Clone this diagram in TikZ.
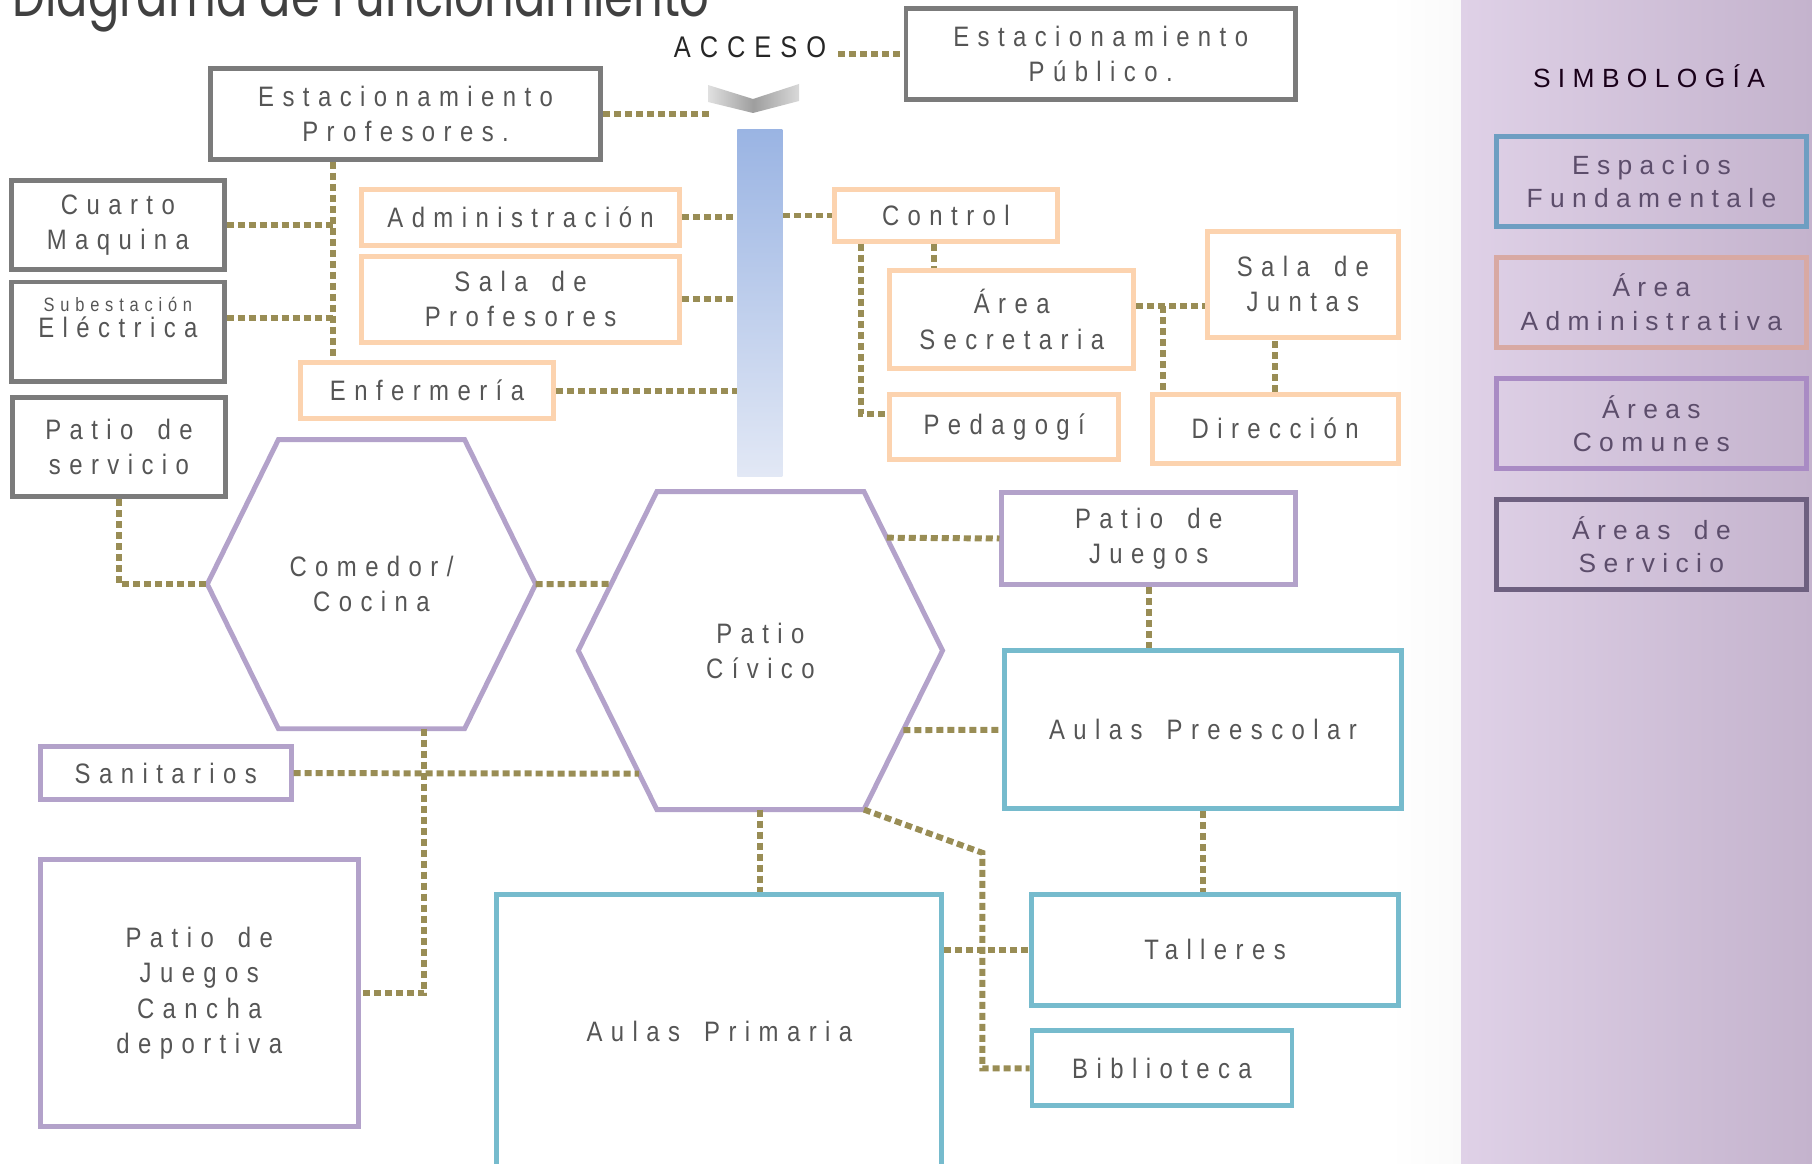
\documentclass[tikz,border=0pt]{standalone}
\usepackage{fontspec}
\setmainfont{Liberation Sans}[FakeStretch=0.85, LetterSpace=30, WordSpace=1.6]
\newfontfamily\legendfont{Liberation Sans}[LetterSpace=28, WordSpace=1.6]
\newfontfamily\titlefont{Poppins}[FakeStretch=0.8]
\usepackage{tikz}
\usetikzlibrary{positioning, calc}

\definecolor{txtgray}{HTML}{555555}
\definecolor{servgray}{HTML}{7B7B7B}
\definecolor{admpeach}{HTML}{FCD3AF}
\definecolor{comlila}{HTML}{B3A2CA}
\definecolor{fundteal}{HTML}{76BBCD}
\definecolor{linkolive}{HTML}{998D55}
\definecolor{barblue}{HTML}{9AB4E3}
\definecolor{barpale}{HTML}{E2E8F5}
\definecolor{legleft}{HTML}{DFD1E7}
\definecolor{legright}{HTML}{C4B3CD}
\definecolor{legtext}{HTML}{5C4D6B}
\definecolor{legfund}{HTML}{6E9EC2}
\definecolor{legadm}{HTML}{D8A9A3}
\definecolor{legcom}{HTML}{A98BC4}
\definecolor{legserv}{HTML}{6E6080}

\begin{document}
\begin{tikzpicture}[
  every node/.style={font=\fontsize{8}{10}\selectfont, text=txtgray, align=center},
  servbox/.style={rectangle, draw=servgray, line width=1.4pt},
  admbox/.style={rectangle, draw=admpeach, line width=1.4pt},
  combox/.style={rectangle, draw=comlila, line width=1.4pt},
  fundbox/.style={rectangle, draw=fundteal, line width=1.4pt},
  hexline/.style={draw=comlila, line width=1.4pt, line join=miter},
  link/.style={draw=linkolive, line width=1.7pt, dash pattern=on 0.07cm off 0.04cm},
  legbox/.style={rectangle, line width=1.4pt, minimum width=3.097cm, minimum height=0.901cm,
    font=\legendfont\fontsize{7.5}{9.5}\selectfont, text=legtext}
]
\useasboundingbox (0,0) rectangle (18.12,-11.64);

% Legend panel
\fill[left color=white, right color=black!2] (13.9,0) rectangle (14.61,-11.64);
\fill[left color=legleft, right color=legright] (14.61,0) rectangle (18.12,-11.64);

% Title and access
\node[anchor=base west, inner sep=0, font=\titlefont\fontsize{16.5}{18}\selectfont, text=black!75] (titulo) at (0.12,-0.17) {Diagrama de Funcionamiento};
\node[font=\fontsize{8.5}{10}\selectfont, text=black!85] (acceso) at (7.50,-0.474) {ACCESO};
\shade[left color=black!12, right color=black!15, middle color=black!38]
  (7.08,-0.85) -- (7.53,-0.99) -- (7.99,-0.84) -- (7.99,-1.01) -- (7.53,-1.13) -- (7.08,-1.02) -- cycle;
\coordinate (chevron) at (7.09,-1.12);
\node[rectangle, top color=barblue, bottom color=barpale, minimum width=0.45cm, minimum height=3.467cm, inner sep=0] (pasillo) at (7.598,-3.028) {};

% Service areas
\node[servbox, minimum width=3.906cm, minimum height=0.913cm] (estprof) at (4.056,-1.138) {Estacionamiento\\Profesores.};
\node[servbox, minimum width=3.894cm, minimum height=0.913cm] (publico) at (11.007,-0.537) {Estacionamiento\\Público.};
\node[servbox, minimum width=2.126cm, minimum height=0.890cm] (cuarto) at (1.179,-2.248) {Cuarto\\Maquina};
\node[servbox, minimum width=2.126cm, minimum height=0.994cm,
  label={[yshift=0.14cm]center:{{\fontsize{5.5}{7}\selectfont Subestación}\\[-2.5pt]Eléctrica}}] (subest) at (1.179,-3.317) {};
\node[servbox, minimum width=2.126cm, minimum height=0.994cm] (patserv) at (1.190,-4.472) {Patio de\\servicio};

% Administrative areas
\node[admbox, minimum width=3.178cm, minimum height=0.555cm] (admin) at (5.206,-2.173) {Administración};
\node[admbox, minimum width=3.178cm, minimum height=0.855cm] (salaprof) at (5.206,-2.993) {Sala de\\Profesores};
\node[admbox, minimum width=2.531cm, minimum height=0.555cm] (enfer) at (4.270,-3.906) {Enfermería};
\node[admbox, minimum width=2.230cm, minimum height=0.520cm] (control) at (9.459,-2.155) {Control};
\node[admbox, minimum width=2.438cm, minimum height=0.982cm] (secret) at (10.117,-3.195) {Área\\Secretaria};
\node[admbox, minimum width=2.288cm, minimum height=0.659cm] (pedag) at (10.042,-4.270) {Pedagogí};
\node[admbox, minimum width=1.907cm, minimum height=1.063cm] (juntas) at (13.029,-2.843) {Sala de\\Juntas};
\node[admbox, minimum width=2.461cm, minimum height=0.693cm] (direc) at (12.752,-4.287) {Dirección};

% Common areas (hexagons drawn on the node frame)
\node[minimum width=3.270cm, minimum height=2.877cm] (comedor) at (3.715,-5.842) {Comedor/\\Cocina};
\draw[hexline] ([xshift=0.711cm]comedor.north west) -- ([xshift=-0.711cm]comedor.north east) -- (comedor.east)
  -- ([xshift=-0.711cm]comedor.south east) -- ([xshift=0.711cm]comedor.south west) -- (comedor.west) -- cycle;
\node[minimum width=3.629cm, minimum height=3.166cm] (civico) at (7.604,-6.506) {Patio\\Cívico};
\coordinate (civico-tl) at ([xshift=0.786cm]civico.north west);
\coordinate (civico-tr) at ([xshift=-0.786cm]civico.north east);
\coordinate (civico-br) at ([xshift=-0.786cm]civico.south east);
\coordinate (civico-bl) at ([xshift=0.786cm]civico.south west);
\draw[hexline] (civico-tl) -- (civico-tr) -- (civico.east) -- (civico-br) -- (civico-bl) -- (civico.west) -- cycle;
\node[combox, minimum width=2.935cm, minimum height=0.924cm] (juegos) at (11.487,-5.385) {Patio de\\Juegos};
\node[combox, minimum width=2.508cm, minimum height=0.532cm] (sanit) at (1.658,-7.731) {Sanitarios};
\node[combox, minimum width=3.178cm, minimum height=2.669cm] (cancha) at (1.993,-9.932) {Patio de\\Juegos\\Cancha\\deportiva};

% Fundamental spaces
\node[fundbox, minimum width=3.975cm, minimum height=1.583cm] (preesc) at (12.030,-7.298) {Aulas Preescolar};
\node[fundbox, minimum width=3.663cm, minimum height=1.109cm] (talleres) at (12.151,-9.499) {Talleres};
\node[fundbox, minimum width=2.600cm, minimum height=0.751cm] (biblio) at (11.620,-10.684) {Biblioteca};
\node[fundbox, minimum width=4.449cm, minimum height=2.750cm] (primaria) at (7.194,-10.319) {Aulas Primaria};

% Links: access and service wing
\coordinate (trunk) at (3.328,-3.58);
\draw[link] (acceso.east |- publico.west) -- (publico.west);
\draw[link] (estprof.east) -- (estprof.east -| chevron);
\draw[link] (estprof.south -| trunk) -- (trunk);
\draw[link] (cuarto.east) -- (cuarto.east -| trunk);
\draw[link] ([yshift=0.14cm]subest.east) -- ([yshift=0.14cm]subest.east -| trunk);

% Links: administration
\draw[link] (admin.east) -- (admin.east -| pasillo.west);
\draw[link] (salaprof.east) -- (salaprof.east -| pasillo.west);
\draw[link] (enfer.east) -- (enfer.east -| pasillo.west);
\draw[link] (pasillo.east |- control.west) -- (control.west);
\draw[link] ([xshift=-0.122cm]control.south) -- ([xshift=-0.122cm]control.south |- secret.north);
\draw[link] ([xshift=-0.85cm]control.south) |- ([yshift=0.133cm]pedag.west);
\coordinate (juntasrama) at (11.626,-3.062);
\draw[link] (juntasrama -| secret.east) -- (juntasrama -| juntas.west);
\draw[link] (juntasrama) -- (juntasrama |- direc.north);
\draw[link] (direc.north) -- (direc.north |- juntas.south);

% Links: courtyards and classrooms
\coordinate (quiebre) at (9.823,-8.528);
\draw[link] (patserv.south) |- (comedor.west);
\draw[link] (comedor.east) -- ($(civico.west)!0.42!(civico-tl)$);
\draw[link] ($(civico-tr)!0.29!(civico.east)$) -- (juegos.west);
\draw[link] (juegos.south) -- (juegos.south |- preesc.north);
\draw[link] ($(civico.east)!0.5!(civico-br)$) -- (preesc.west);
\draw[link] (preesc.south) -- (preesc.south |- talleres.north);
\draw[link] (civico.south) -- (civico.south |- primaria.north);
\draw[link] (civico-br) -- (quiebre) |- (biblio.west);
\draw[link] (primaria.east |- talleres.west) -- (talleres.west);
\draw[link] (sanit.east) -- ($(civico.west)!0.774!(civico-bl)$);
\draw[link] ([xshift=0.526cm]comedor.south) |- (cancha.east);

% Legend
\node[font=\legendfont\fontsize{7.5}{9.5}\selectfont, text=black!80!violet] (simb) at (16.49,-0.763) {SIMBOLOGÍA};
\node[legbox, draw=legfund] (leyfund) at (16.514,-1.814) {Espacios\\Fundamentale};
\node[legbox, draw=legadm] (leyadm) at (16.514,-3.022) {Área\\Administrativa};
\node[legbox, draw=legcom] (leycom) at (16.514,-4.235) {Áreas\\Comunes};
\node[legbox, draw=legserv] (leyserv) at (16.514,-5.449) {Áreas de\\Servicio};

\end{tikzpicture}
\end{document}
